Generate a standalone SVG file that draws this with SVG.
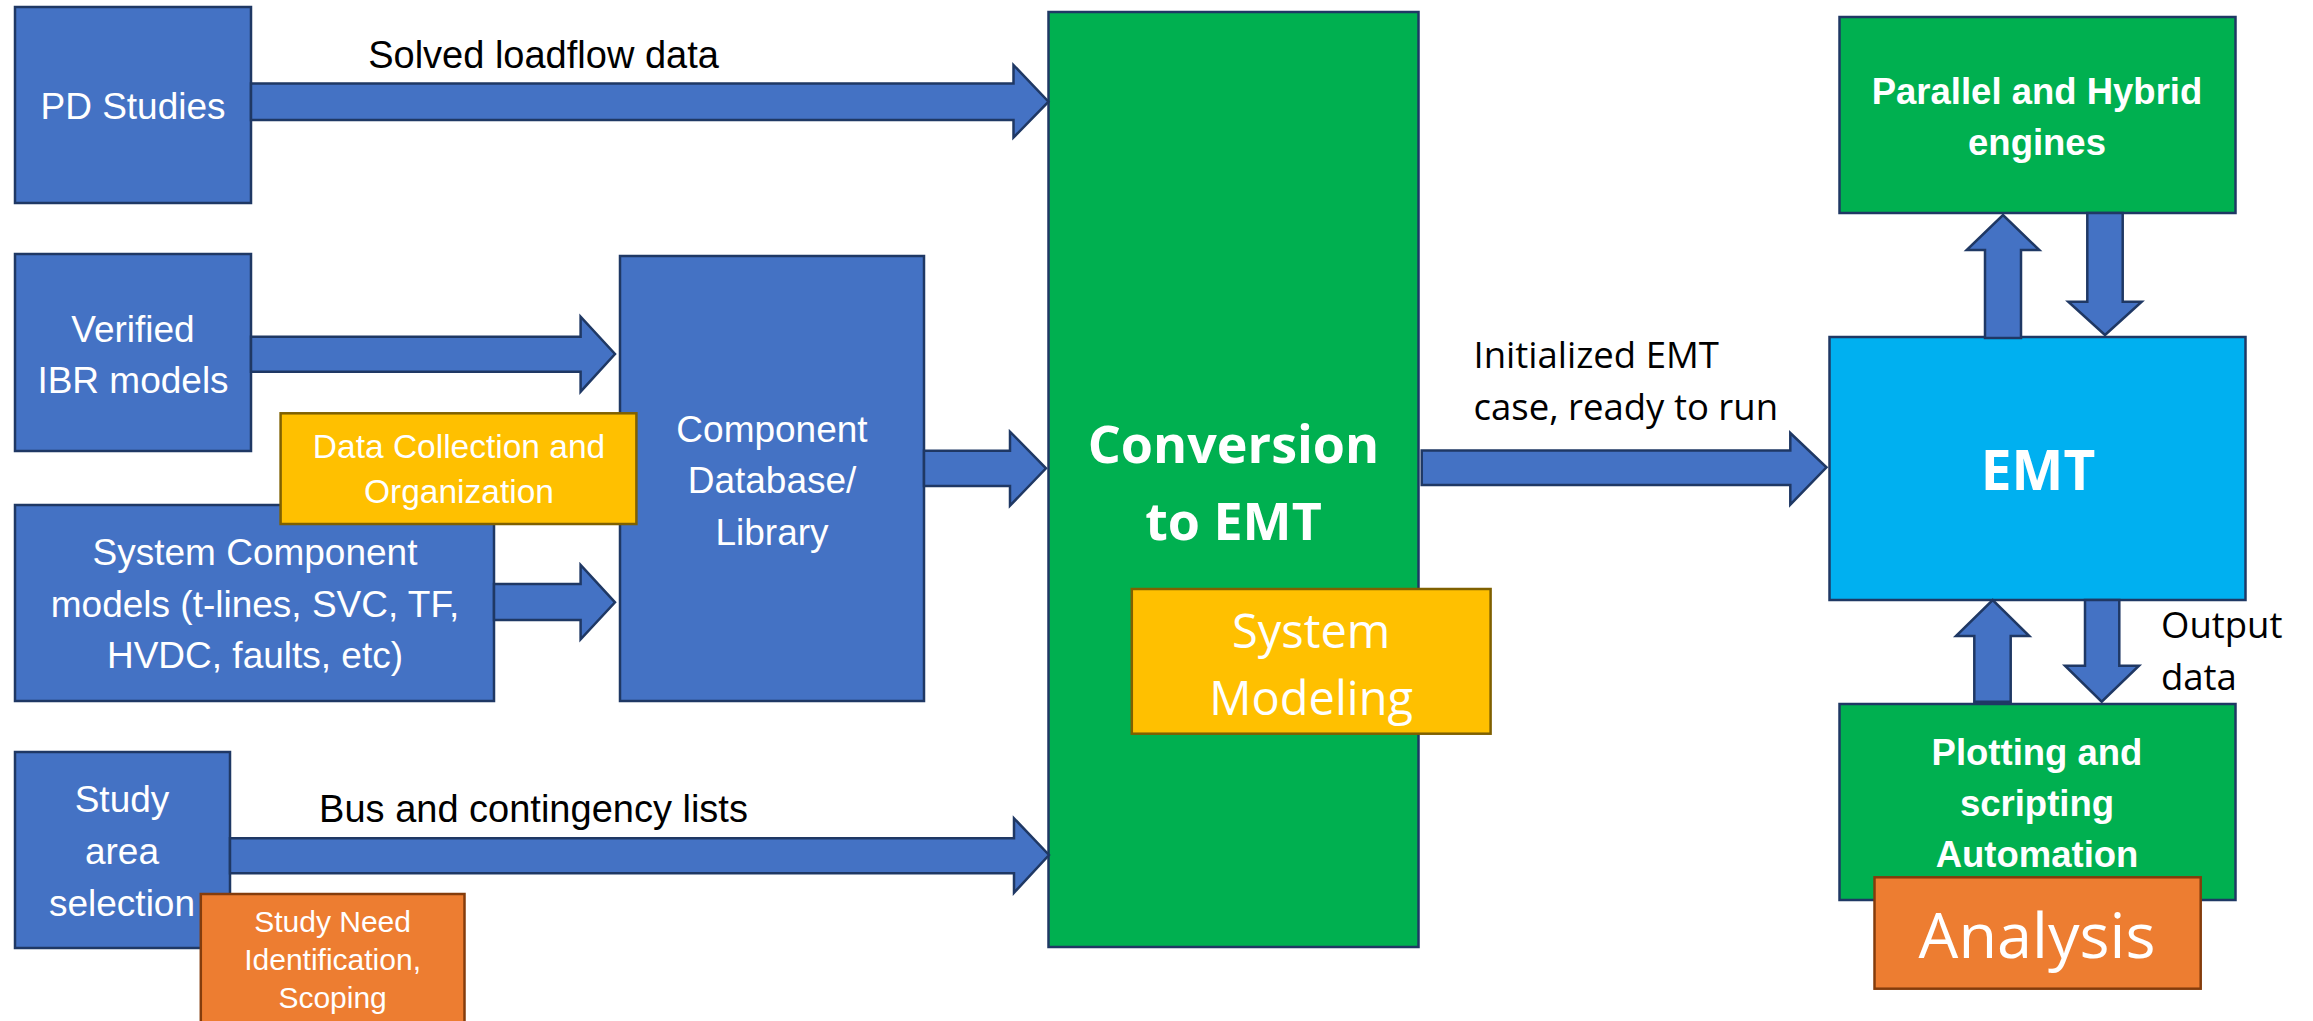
<svg xmlns="http://www.w3.org/2000/svg" width="2313" height="1021" viewBox="0 0 2313 1021">
<style>
.blue{fill:#4472C4;stroke:#1F3864;stroke-width:2.5}
.green{fill:#00B050;stroke:#1F3864;stroke-width:2.5}
.cyan{fill:#00B0F0;stroke:#1F3864;stroke-width:2.5}
.yellow{fill:#FFC000;stroke:#7F6000;stroke-width:2.5}
.orange{fill:#ED7D31;stroke:#843C0C;stroke-width:2.5}
.arr{fill:#4472C4;stroke:#1F3864;stroke-width:2.5;stroke-linejoin:miter}
.c{font-family:"Liberation Sans",Arial,sans-serif;fill:#fff;text-anchor:middle;font-size:37px}
.c33{font-family:"Liberation Sans",Arial,sans-serif;fill:#fff;text-anchor:middle;font-size:33.5px}
.c30{font-family:"Liberation Sans",Arial,sans-serif;fill:#fff;text-anchor:middle;font-size:30px}
.cb{font-family:"Liberation Sans",Arial,sans-serif;fill:#fff;text-anchor:middle;font-size:36.5px;font-weight:bold}
.lbl{font-family:"Liberation Sans",Arial,sans-serif;fill:#000;text-anchor:middle;font-size:38px}
.s{font-family:"Open Sans",sans-serif;fill:#fff;text-anchor:middle}
.sl{font-family:"Open Sans",sans-serif;fill:#000;font-size:36.5px}
</style>
<rect width="2313" height="1021" fill="#fff"/>
<g id="pd-studies">
<rect class="blue" x="15" y="7" width="236" height="196"/>
<text class="c" x="133" y="119">PD Studies</text>
</g>
<g id="verified-ibr">
<rect class="blue" x="15" y="254" width="236" height="197"/>
<text class="c" x="133" y="342">Verified</text>
<text class="c" x="133" y="393">IBR models</text>
</g>
<g id="system-component">
<rect class="blue" x="15" y="505" width="479" height="196"/>
<text class="c" x="255" y="565">System Component</text>
<text class="c" x="255" y="617">models (t-lines, SVC, TF,</text>
<text class="c" x="255" y="668">HVDC, faults, etc)</text>
</g>
<g id="study-area">
<rect class="blue" x="15" y="752" width="215" height="196"/>
<text class="c" x="122" y="812">Study</text>
<text class="c" x="122" y="864">area</text>
<text class="c" x="122" y="916">selection</text>
</g>
<g id="component-db">
<rect class="blue" x="620" y="256" width="304" height="445"/>
<text class="c" x="772" y="442">Component</text>
<text class="c" x="772" y="493">Database/</text>
<text class="c" x="772" y="545">Library</text>
</g>
<g id="conversion">
<rect class="green" x="1048.5" y="12" width="370" height="935"/>
<text class="s" x="1233.5" y="463" font-size="52" font-weight="bold">Conversion</text>
<text class="s" x="1233.5" y="540" font-size="52" font-weight="bold">to EMT</text>
</g>
<g id="parallel-hybrid">
<rect class="green" x="1839.5" y="17" width="396" height="196"/>
<text class="cb" x="2037" y="104">Parallel and Hybrid</text>
<text class="cb" x="2037" y="155">engines</text>
</g>
<g id="emt">
<rect class="cyan" x="1829.5" y="337" width="416" height="263"/>
<text class="s" x="2038" y="490" font-size="55" font-weight="bold">EMT</text>
</g>
<g id="plotting">
<rect class="green" x="1839.5" y="704" width="396" height="196"/>
<text class="cb" x="2037" y="765">Plotting and</text>
<text class="cb" x="2037" y="816">scripting</text>
<text class="cb" x="2037" y="867">Automation</text>
</g>
<g id="connectors">
<polygon class="arr" points="251,83.5 1013.5,83.5 1013.5,65 1048.5,101.7 1013.5,137.5 1013.5,120 251,120"/>
<polygon class="arr" points="251,336.7 580.6,336.7 580.6,316.7 615,354 580.6,391.7 580.6,371.7 251,371.7"/>
<polygon class="arr" points="494,584 580.6,584 580.6,565 615,602.3 580.6,639.3 580.6,620 494,620"/>
<polygon class="arr" points="924,450.7 1010,450.7 1010,431.7 1046,468.3 1010,505.7 1010,486 924,486"/>
<polygon class="arr" points="230,838.3 1014,838.3 1014,818.3 1049,855 1014,892.7 1014,873.3 230,873.3"/>
<polygon class="arr" points="1421.7,450.5 1790.3,450.5 1790.3,433 1826.5,467.4 1790.3,504.6 1790.3,485 1421.7,485"/>
<polygon class="arr" points="1985,338 1985,250 1966.7,250 2003,215 2039.3,250 2021,250 2021,338"/>
<polygon class="arr" points="2087.3,213 2122.7,213 2122.7,301.7 2141.7,301.7 2105,335 2068.3,301.7 2087.3,301.7"/>
<polygon class="arr" points="1974.3,701.7 1974.3,636 1956,636 1992.7,600 2029.3,636 2010.7,636 2010.7,701.7"/>
<polygon class="arr" points="2085,600 2119.3,600 2119.3,665.7 2139,665.7 2101.7,701.7 2065,665.7 2085,665.7"/>
</g>
<g id="label-solved">
<text class="lbl" x="543.5" y="68">Solved loadflow data</text>
</g>
<g id="label-bus">
<text class="lbl" x="533.5" y="822">Bus and contingency lists</text>
</g>
<g id="label-initialized">
<text class="sl" x="1473.5" y="368">Initialized EMT</text>
<text class="sl" x="1473.5" y="420">case, ready to run</text>
</g>
<g id="label-output">
<text class="sl" x="2161" y="638">Output</text>
<text class="sl" x="2161" y="690">data</text>
</g>
<g id="data-collection">
<rect class="yellow" x="280.6" y="413.3" width="355.8" height="110.7"/>
<text class="c33" x="459" y="458">Data Collection and</text>
<text class="c33" x="459" y="503">Organization</text>
</g>
<g id="system-modeling">
<rect class="yellow" x="1131.8" y="589" width="358.8" height="144.7"/>
<text class="s" x="1311.2" y="648" font-size="47">System</text>
<text class="s" x="1311.2" y="715" font-size="47">Modeling</text>
</g>
<g id="study-need">
<rect class="orange" x="200.8" y="894" width="263.7" height="140"/>
<text class="c30" x="332.6" y="932">Study Need</text>
<text class="c30" x="332.6" y="970">Identification,</text>
<text class="c30" x="332.6" y="1008">Scoping</text>
</g>
<g id="analysis">
<rect class="orange" x="1874.5" y="877.3" width="326.2" height="111.4"/>
<text class="s" x="2037" y="958" font-size="63">Analysis</text>
</g>
</svg>
